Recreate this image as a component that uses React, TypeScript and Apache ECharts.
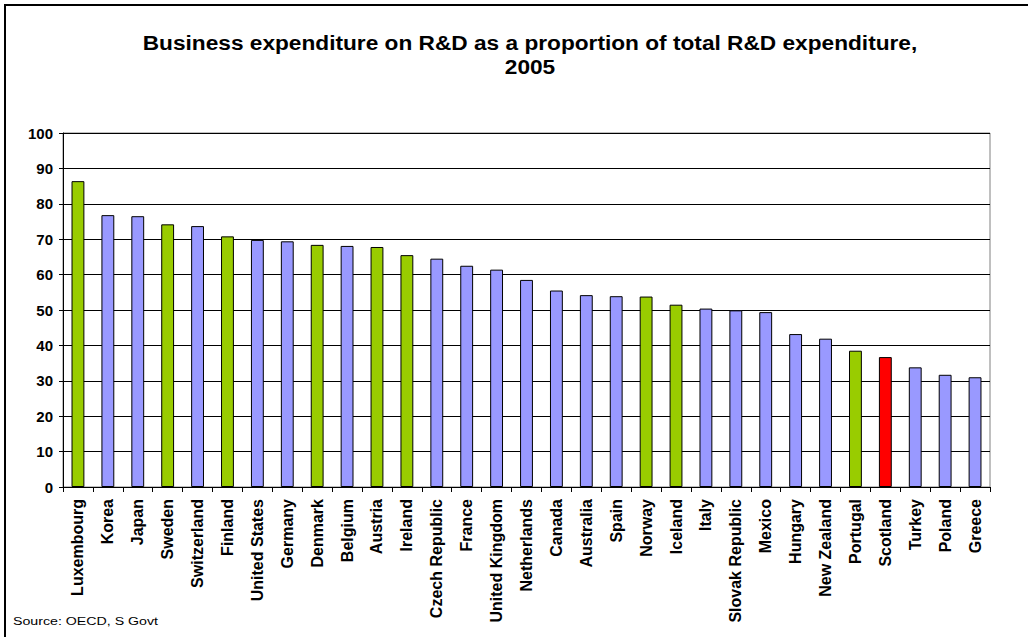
import React, { useEffect, useRef } from "react";
import * as echarts from "echarts";

const countries = [
  "Luxembourg", "Korea", "Japan", "Sweden", "Switzerland", "Finland", "United States", "Germany",
  "Denmark", "Belgium", "Austria", "Ireland", "Czech Republic", "France", "United Kingdom", "Netherlands",
  "Canada", "Australia", "Spain", "Norway", "Iceland", "Italy", "Slovak Republic", "Mexico",
  "Hungary", "New Zealand", "Portugal", "Scotland", "Turkey", "Poland", "Greece",
];

const values = [
  86.4, 76.8, 76.5, 74.2, 73.7, 70.8, 69.8, 69.4,
  68.4, 68.1, 67.8, 65.5, 64.5, 62.5, 61.4, 58.5,
  55.5, 54.2, 53.9, 53.8, 51.5, 50.4, 49.9, 49.4,
  43.2, 41.9, 38.5, 36.7, 33.8, 31.7, 31.0,
];

// group per country: "b" = blue, "g" = green (comparator), "s" = Scotland
const groups = [
  "g", "b", "b", "g", "b", "g", "b", "b",
  "g", "b", "g", "g", "b", "b", "b", "b",
  "b", "b", "b", "g", "g", "b", "b", "b",
  "b", "b", "g", "s", "b", "b", "b",
];

const groupColors: Record<string, string> = { b: "#9999FF", g: "#99CC00", s: "#FF0000" };

const yTicks = { min: 0, max: 100, interval: 10 };

const titleLines = ["Business expenditure on R&D as a proportion of total R&D expenditure,", "2005"];
const sourceText = "Source: OECD, S Govt";

const FONT = 'Arial, "Liberation Sans", sans-serif';

export default function App() {
  const ref = useRef<HTMLDivElement>(null);
  useEffect(() => {
    document.body.style.margin = "0";
    const chart = echarts.init(ref.current!, null, { renderer: "svg" });
    chart.setOption({
      animation: false,
      backgroundColor: "#ffffff",
      grid: {
        left: 63,
        right: 38,
        top: 133,
        bottom: 150,
        show: true,
        borderColor: "#808080",
        borderWidth: 1,
        backgroundColor: "transparent",
      },
      graphic: [
        {
          type: "rect",
          shape: { x: 5, y: 5, width: 1040, height: 650 },
          style: { fill: "none", stroke: "#000", lineWidth: 2 },
          silent: true,
        },
        {
          type: "text",
          x: 530,
          y: 43,
          scaleX: 1.08,
          style: {
            text: titleLines[0],
            font: `bold 21px ${FONT}`,
            fill: "#000",
            textAlign: "center",
            textVerticalAlign: "middle",
          },
        },
        {
          type: "text",
          x: 530,
          y: 67,
          scaleX: 1.08,
          style: {
            text: titleLines[1],
            font: `bold 21px ${FONT}`,
            fill: "#000",
            textAlign: "center",
            textVerticalAlign: "middle",
          },
        },
        {
          type: "text",
          x: 13,
          y: 622,
          scaleX: 1.42,
          style: {
            text: sourceText,
            font: `10px ${FONT}`,
            fill: "#000",
            textAlign: "left",
            textVerticalAlign: "middle",
          },
        },
      ],
      xAxis: {
        type: "category",
        data: countries,
        axisLine: { show: true, lineStyle: { color: "#000", width: 1 } },
        axisTick: { show: true, length: 5, lineStyle: { color: "#000" } },
        axisLabel: {
          rotate: 90,
          interval: 0,
          margin: 12,
          color: "#000",
          fontWeight: "bold",
          fontSize: 16,
          fontFamily: FONT,
        },
        splitLine: { show: false },
      },
      yAxis: {
        type: "value",
        min: yTicks.min,
        max: yTicks.max,
        interval: yTicks.interval,
        axisLine: { show: true, lineStyle: { color: "#000", width: 1 } },
        axisTick: { show: true, length: 4, lineStyle: { color: "#000" } },
        axisLabel: {
          color: "#000",
          fontWeight: "bold",
          fontSize: 15,
          fontFamily: FONT,
          margin: 10,
        },
        splitLine: { show: true, lineStyle: { color: "#000", width: 1 } },
      },
      series: [
        {
          type: "bar",
          barWidth: "43%",
          data: values.map((v, i) => ({
            value: v,
            itemStyle: { color: groupColors[groups[i]], borderColor: "#000", borderWidth: 1 },
          })),
        },
      ],
    });
    return () => chart.dispose();
  }, []);
  return (
    <div
      ref={ref}
      style={{ position: "absolute", left: 0, top: 0, width: 1028, height: 637, background: "#fff" }}
    />
  );
}
